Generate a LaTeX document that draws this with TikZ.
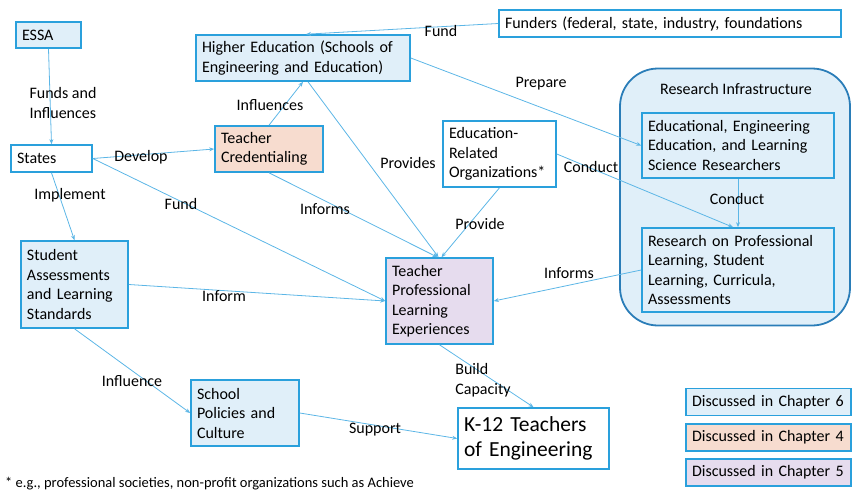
\documentclass[tikz,border=0pt]{standalone}
\usepackage{fontspec}
\setmainfont{Carlito}
\usetikzlibrary{arrows.meta}
\definecolor{bord}{HTML}{2AA0DC}
\definecolor{conn}{HTML}{5CB6E6}
\definecolor{infra}{HTML}{2A7DB8}
\definecolor{fblue}{HTML}{E0EFF9}
\definecolor{forange}{HTML}{F7DCCF}
\definecolor{fpurple}{HTML}{E6DCEE}
\begin{document}
\begin{tikzpicture}[x=1pt,y=-1pt,
  font=\fontsize{16}{19.5}\selectfont,
  box/.style={draw=bord, line width=1.6pt, rectangle, inner xsep=6pt, inner ysep=0pt, align=left, fill=white},
  bluebox/.style={box, fill=fblue},
  orangebox/.style={box, fill=forange},
  purplebox/.style={box, fill=fpurple},
  lbl/.style={inner sep=0pt, align=left},
  conn/.style={draw=conn, line width=0.8pt, -{Stealth[length=5pt,width=4pt]}}]
\useasboundingbox (0,0) rectangle (852,493);
% research infrastructure container
\node[draw=infra, line width=1.8pt, fill=fblue, rounded corners=38pt, minimum width=230pt, minimum height=257pt, inner sep=0pt] (infraBox) at (735,197) {};
\node[lbl] (infraLbl) at (736,89) {Research Infrastructure};
% nodes
\node[bluebox, text width=53pt, minimum height=26pt] (essa) at (48.5,35) {ESSA};
\node[bluebox, text width=202pt, minimum height=46pt] (higher) at (303,58) {Higher Education (Schools of\\Engineering and Education)};
\node[box, text width=330pt, minimum height=27pt] (funders) at (670,23.5) {Funders (federal, state, industry, foundations};
\node[box, text width=69pt, minimum height=27pt] (states) at (51.5,158.5) {States};
\node[orangebox, text width=96pt, minimum height=46pt] (cred) at (269,149) {Teacher\\Credentialing};
\node[box, text width=101pt, minimum height=66pt] (orgs) at (499.5,154) {Education-\\Related\\Organizations*};
\node[bluebox, text width=180pt, minimum height=65pt] (researchers) at (738,145.5) {Educational, Engineering\\Education, and Learning\\Science Researchers};
\node[bluebox, text width=180pt, minimum height=84pt] (research) at (738,270) {Research on Professional\\Learning, Student\\Learning, Curricula,\\Assessments};
\node[bluebox, text width=95pt, minimum height=87pt] (assess) at (74.5,284.5) {Student\\Assessments\\and Learning\\Standards};
\node[purplebox, text width=95pt, minimum height=86pt] (ple) at (439.5,301) {Teacher\\Professional\\Learning\\Experiences};
\node[bluebox, text width=96pt, minimum height=66pt] (school) at (245,413) {School\\Policies and\\Culture};
\node[box, text width=139pt, minimum height=61pt, font=\fontsize{21.5}{25}\selectfont] (k12) at (533.5,438.5) {K-12 Teachers\\of Engineering};
% legend
\node[bluebox, text width=153pt, minimum height=27pt] (leg6) at (768.5,402) {Discussed in Chapter 6};
\node[orangebox, text width=153pt, minimum height=27pt] (leg4) at (768.5,437.5) {Discussed in Chapter 4};
\node[purplebox, text width=153pt, minimum height=27pt] (leg5) at (768.5,472.5) {Discussed in Chapter 5};
% footnote
\node[lbl, anchor=west, font=\fontsize{14.5}{17}\selectfont] (foot) at (5,484) {* e.g., professional societies, non-profit organizations such as Achieve};
% connectors
\draw[conn] (essa.south) -- (states.north);
\draw[conn] (states.east) -- (cred.west);
\draw[conn] (states.south) -- (assess.north);
\draw[conn] (states.east) -- (ple.west);
\draw[conn] (assess.east) -- (ple.west);
\draw[conn] (cred.south) -- ([xshift=-2pt]ple.north);
\draw[conn] (cred.north) -- (higher.south);
\draw[conn] ([xshift=5pt]higher.south) -- ([xshift=-1pt]ple.north);
\draw[conn] (funders.west) -- ([xshift=3pt]higher.north);
\draw[conn] (higher.east) -- (researchers.west);
\draw[conn] (orgs.east) -- ([xshift=-5pt]research.north);
\draw[conn] (researchers.south) -- (research.north);
\draw[conn] (orgs.south) -- ([xshift=2pt]ple.north);
\draw[conn] (research.west) -- (ple.east);
\draw[conn] (assess.south) -- (school.west);
\draw[conn] (school.east) -- (k12.west);
\draw[conn] (ple.south) -- (k12.north);
% labels
\node[lbl] (l1) at (63,103) {Funds and\\Influences};
\node[lbl] (l2) at (141,157) {Develop};
\node[lbl] (l3) at (70,195) {Implement};
\node[lbl] (l4) at (181,204) {Fund};
\node[lbl] (l5) at (270,105) {Influences};
\node[lbl] (l6) at (325,209) {Informs};
\node[lbl] (l7) at (408,163) {Provides};
\node[lbl] (l8) at (441,31) {Fund};
\node[lbl] (l9) at (541,84) {Prepare};
\node[lbl] (l10) at (591,167) {Conduct};
\node[lbl] (l11) at (737,199) {Conduct};
\node[lbl] (l12) at (480,224) {Provide};
\node[lbl] (l13) at (569,273) {Informs};
\node[lbl] (l14) at (224,296) {Inform};
\node[lbl] (l15) at (132,381) {Influence};
\node[lbl] (l16) at (375,430) {Support};
\node[lbl] (l17) at (483,380) {Build\\Capacity};
\end{tikzpicture}
\end{document}
